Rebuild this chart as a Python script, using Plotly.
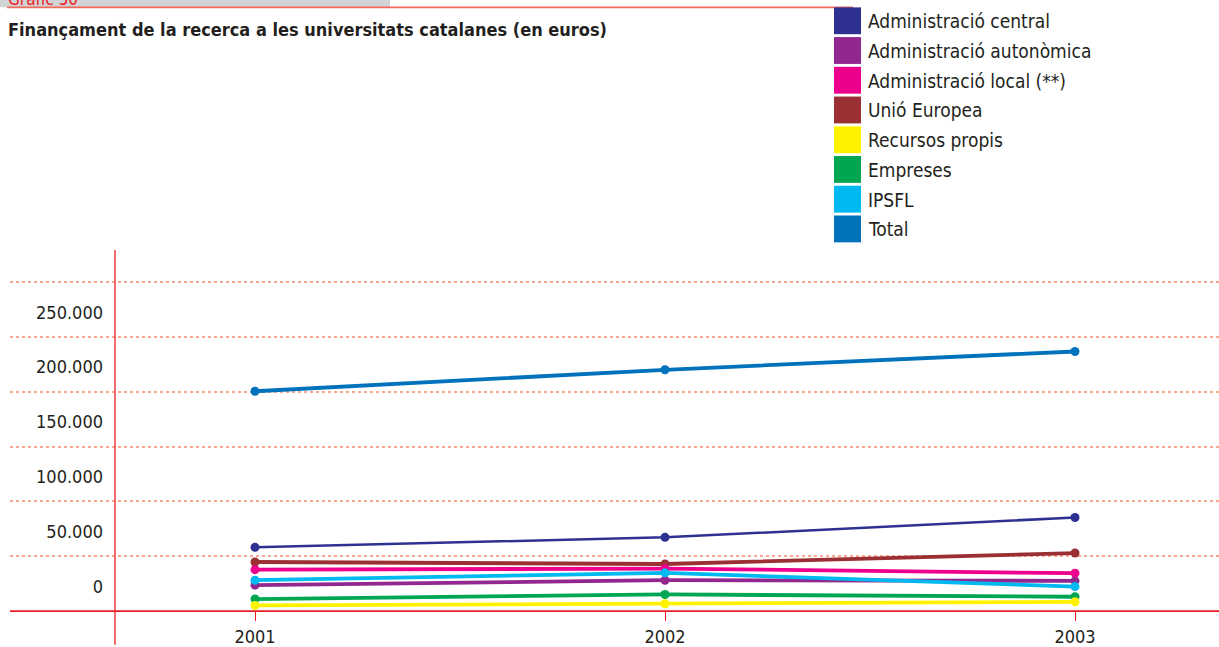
import plotly.graph_objects as go

# ---------------- data ----------------
years = [2001, 2002, 2003]

series_names = [
    "Administració central",
    "Administració autonòmica",
    "Administració local (**)",
    "Unió Europea",
    "Recursos propis",
    "Empreses",
    "IPSFL",
    "Total",
]
series_colors = [
    "#2e3192",
    "#92278f",
    "#ec008c",
    "#9a2f34",
    "#fff200",
    "#00a651",
    "#00b9f1",
    "#0072bc",
]

admin_central = [58100, 67200, 85300]
admin_autonomica = [23600, 28100, 27500]
admin_local = [37700, 38700, 34500]
unio_europea = [44700, 42900, 52900]
recursos_propis = [5100, 6600, 8400]
empreses = [10900, 15100, 13000]
ipsfl = [28100, 34800, 22300]
total = [200500, 220100, 236800]

series_values = [admin_central, admin_autonomica, admin_local, unio_europea,
                 recursos_propis, empreses, ipsfl, total]

y_label_values = [0, 50000, 100000, 150000, 200000, 250000]
y_label_texts = ["0", "50.000", "100.000", "150.000", "200.000", "250.000"]
grid_values = [50000, 100000, 150000, 200000, 250000, 300000]

title_text = "Finançament de la recerca a les universitats catalanes (en euros)"
header_text = "Gràfic 30"

# ---------------- style ----------------
FONT = "Liberation Sans Narrow, DejaVu Sans Condensed, Roboto Condensed, Arial Narrow, sans-serif"
TEXT = "#231f20"
RED = "#ed1c24"
GRID = "#f7a88f"
W, H = 1219, 647
ML, MR, MT, MB = 10, 0, 250, 34
PW, PH = W - ML - MR, H - MT - MB

def px_to_paper_x(px):
    return (px - ML) / PW

def px_to_paper_y(py):
    return (H - MB - py) / PH

label_offset = 22500  # labels sit half-way between gridlines

fig = go.Figure()

draw_order = [0, 1, 3, 2, 6, 5, 4, 7]
for i in draw_order:
    fig.add_trace(go.Scatter(
        x=years, y=series_values[i], name=series_names[i],
        mode="lines+markers",
        line=dict(color=series_colors[i], width=2.5 if i == 0 else 3.8),
        marker=dict(color=series_colors[i], size=9),
        showlegend=False,
    ))

shapes = []
annotations = []

# header grey bar + red rule
shapes.append(dict(type="rect", xref="paper", yref="paper",
                   x0=px_to_paper_x(0), x1=px_to_paper_x(390),
                   y0=px_to_paper_y(6), y1=px_to_paper_y(-2),
                   fillcolor="#d1d3d4", line=dict(width=0), layer="below"))
shapes.append(dict(type="line", xref="paper", yref="paper",
                   x0=px_to_paper_x(7), x1=px_to_paper_x(853),
                   y0=px_to_paper_y(6), y1=px_to_paper_y(6),
                   line=dict(color="#f26b5b", width=1.6)))
annotations.append(dict(text=header_text, xref="paper", yref="paper",
                        x=px_to_paper_x(6), y=px_to_paper_y(10),
                        xanchor="left", yanchor="bottom", showarrow=False,
                        font=dict(family=FONT, size=17, color=RED)))

# vertical red axis line extending below the plot
y_axis_x = 2001 - 140 / 410
shapes.append(dict(type="line", xref="x", yref="paper",
                   x0=y_axis_x, x1=y_axis_x,
                   y0=px_to_paper_y(H), y1=1,
                   line=dict(color=RED, width=1.3)))
# red horizontal base line
shapes.append(dict(type="line", xref="paper", yref="y",
                   x0=0, x1=1, y0=0, y1=0,
                   line=dict(color=RED, width=1.3)))

# manual legend
leg_top = 6
leg_step = 29.9
for k, (nm, col) in enumerate(zip(series_names, series_colors)):
    t = leg_top + k * leg_step
    shapes.append(dict(type="rect", xref="paper", yref="paper",
                       x0=px_to_paper_x(834), x1=px_to_paper_x(861),
                       y0=px_to_paper_y(t + 27), y1=px_to_paper_y(t),
                       fillcolor=col, line=dict(width=0)))
    annotations.append(dict(text=nm, xref="paper", yref="paper",
                            x=px_to_paper_x(866), y=px_to_paper_y(t + 14),
                            xanchor="left", yanchor="middle", showarrow=False,
                            font=dict(family=FONT, size=19, color=TEXT)))

fig.update_layout(
    width=W, height=H,
    margin=dict(l=ML, r=MR, t=MT, b=MB, pad=0),
    paper_bgcolor="white", plot_bgcolor="white",
    showlegend=False,
    title=dict(text=title_text, x=8 / W, xanchor="left", xref="container",
               y=1 - 30 / H, yanchor="middle", yref="container",
               font=dict(family=FONT, size=18, color=TEXT, weight="bold")),
    shapes=shapes,
    annotations=annotations,
    xaxis=dict(
        range=[2001 - 245 / 410, 2003 + 144 / 410],
        tickvals=years, ticktext=[str(y) for y in years],
        showgrid=False, zeroline=False,
        showline=True, linecolor=RED, linewidth=1.3,
        ticks="outside", ticklen=9, tickcolor=RED, tickwidth=1.3,
        tickfont=dict(family=FONT, size=18, color=TEXT),
        fixedrange=True,
    ),
    yaxis=dict(
        range=[0, (H - MB - MT) / 1.102 * 1000],
        anchor="free", position=px_to_paper_x(115),
        tickvals=[v + label_offset for v in y_label_values],
        ticktext=y_label_texts,
        ticks="", ticklabelstandoff=12,
        showgrid=False, zeroline=False, showline=False,
        tickfont=dict(family=FONT, size=18, color=TEXT),
        minor=dict(tickvals=grid_values, showgrid=True, gridcolor=GRID,
                   griddash="dot", gridwidth=1.5, ticks=""),
        fixedrange=True,
    ),
)

fig.write_html("out.html", config={"displayModeBar": False},
               post_script="document.body.style.margin='0';document.body.style.overflow='hidden';")
